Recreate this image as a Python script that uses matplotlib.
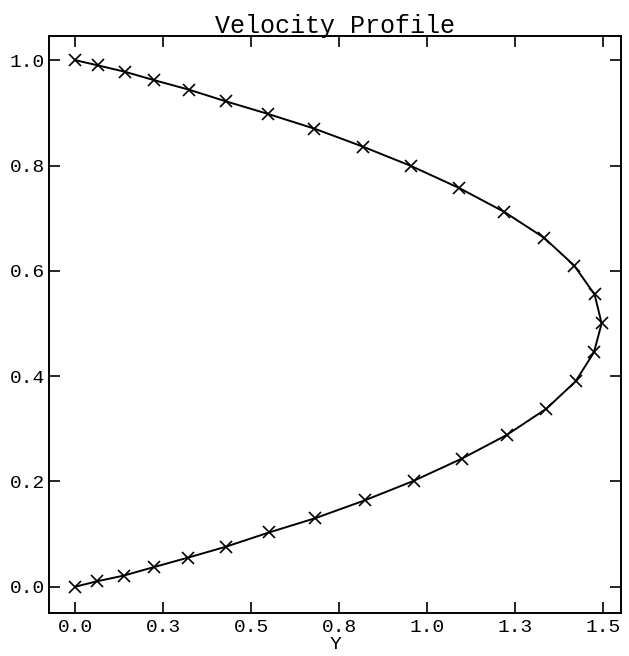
import numpy as np
import matplotlib
matplotlib.use("Agg")
import matplotlib.pyplot as plt

plt.rcParams['font.family'] = ['Liberation Mono', 'DejaVu Sans Mono']

# Velocity profile (u along the horizontal, y up the side)
u_vals = [0.0, 0.060, 0.137, 0.222, 0.319, 0.428, 0.550, 0.681, 0.822, 0.961,
          1.097, 1.225, 1.338, 1.421, 1.473, 1.495, 1.475, 1.417, 1.331, 1.218,
          1.091, 0.954, 0.816, 0.679, 0.547, 0.427, 0.323, 0.224, 0.141, 0.065,
          0.0]
y_vals = [0.0, 0.010, 0.021, 0.037, 0.055, 0.076, 0.103, 0.130, 0.164, 0.201,
          0.243, 0.288, 0.338, 0.390, 0.445, 0.500, 0.555, 0.610, 0.663, 0.712,
          0.757, 0.799, 0.836, 0.870, 0.898, 0.922, 0.944, 0.962, 0.978, 0.990,
          1.0]

x_ticks = [0.0, 0.25, 0.5, 0.75, 1.0, 1.25, 1.5]
x_tick_labels = ['0.0', '0.3', '0.5', '0.8', '1.0', '1.3', '1.5']
y_ticks = [0.0, 0.2, 0.4, 0.6, 0.8, 1.0]
y_tick_labels = ['0.0', '0.2', '0.4', '0.6', '0.8', '1.0']

fig = plt.figure(figsize=(6.29, 6.56), dpi=100)
ax = fig.add_axes([49 / 629, 1 - 613 / 656, 572 / 629, 577 / 656])

ax.plot(u_vals, y_vals, color='black', lw=1.4, marker='x',
        markersize=9, markeredgewidth=1.2)

ax.set_xlim(-0.075, 1.55)
ax.set_ylim(-0.05, 1.046)
ax.set_xticks(x_ticks)
ax.set_xticklabels(x_tick_labels)
ax.set_yticks(y_ticks)
ax.set_yticklabels(y_tick_labels)

ax.tick_params(direction='in', length=8, width=1.2, top=True, right=True,
               labelsize=14, colors='black')
ax.tick_params(axis='y', pad=3)
ax.tick_params(axis='x', pad=4)
for s in ax.spines.values():
    s.set_linewidth(1.4)

ax.set_xlabel('Y', fontsize=14, labelpad=0)
ax.set_title('Velocity Profile', fontsize=18, pad=2)

fig.savefig('out.png', dpi=100)
